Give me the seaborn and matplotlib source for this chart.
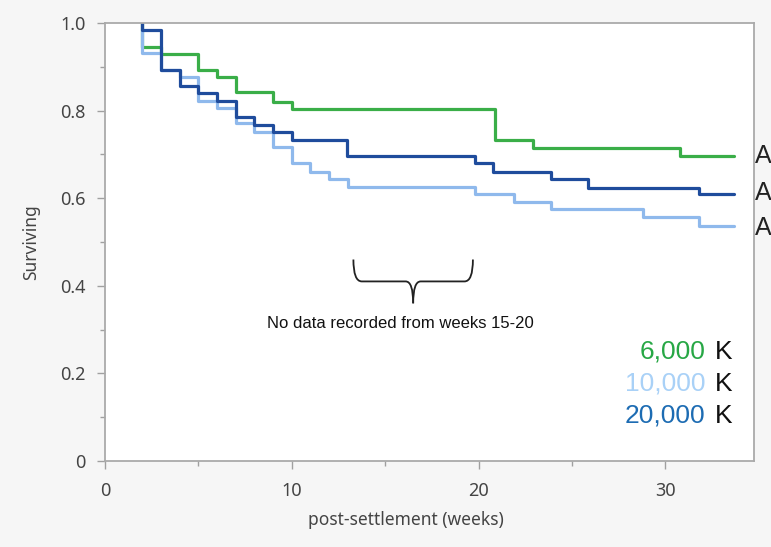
import numpy as np
import pandas as pd
import matplotlib
matplotlib.use('Agg')
import matplotlib.pyplot as plt
from matplotlib.path import Path
from matplotlib.patches import PathPatch
from matplotlib.ticker import MultipleLocator, FuncFormatter
import seaborn as sns

# survival curves (week, fraction surviving), step-post
weeks_6k = [2, 2, 3, 5, 6, 7, 9, 10, 20.9, 22.9, 30.8, 33.7]
surv_6k = [1.0, 0.946, 0.929, 0.893, 0.877, 0.842, 0.820, 0.804, 0.733, 0.715, 0.696, 0.696]

weeks_10k = [2, 2, 3, 4, 5, 6, 7, 8, 9, 10, 11, 12, 13, 19.8, 21.9, 23.9, 28.8, 31.8, 33.7]
surv_10k = [1.0, 0.932, 0.893, 0.877, 0.823, 0.806, 0.772, 0.752, 0.718, 0.680, 0.660, 0.644,
            0.625, 0.609, 0.592, 0.575, 0.556, 0.537, 0.537]

weeks_20k = [2, 2, 3, 4, 5, 6, 7, 8, 9, 10, 12.95, 19.8, 20.8, 23.9, 25.85, 31.8, 33.7]
surv_20k = [1.0, 0.985, 0.893, 0.856, 0.841, 0.823, 0.785, 0.767, 0.752, 0.733, 0.696, 0.681,
            0.660, 0.643, 0.624, 0.609, 0.609]

draw_order = ['6,000', '10,000', '20,000']
line_colors = {'6,000': '#3aae48', '10,000': '#8fb9ec', '20,000': '#1f4c9c'}
label_colors = {'6,000': '#27a745', '10,000': '#a9d1f7', '20,000': '#1d6cb3'}
legend_order = ['6,000', '10,000', '20,000']

df = pd.concat([
    pd.DataFrame({'week': weeks_6k, 'surv': surv_6k, 'group': '6,000'}),
    pd.DataFrame({'week': weeks_10k, 'surv': surv_10k, 'group': '10,000'}),
    pd.DataFrame({'week': weeks_20k, 'surv': surv_20k, 'group': '20,000'}),
], ignore_index=True)

sns.set_style('white')
plt.rcParams['font.family'] = ['Noto Sans', 'DejaVu Sans']
helv = ['Liberation Sans', 'DejaVu Sans']

fig = plt.figure(figsize=(7.71, 5.47), dpi=100, facecolor='#f6f6f6')
ax = fig.add_axes([105 / 771, 1 - 461 / 547, 649 / 771, 438 / 547])
ax.set_facecolor('white')

for g in draw_order:
    sub = df[df['group'] == g]
    sns.lineplot(data=sub, x='week', y='surv', estimator=None, sort=False,
                 drawstyle='steps-post', color=line_colors[g], linewidth=2.3, ax=ax)

ax.set_xlim(0, 34.75)
ax.set_ylim(0, 1.0)
ax.xaxis.set_major_locator(MultipleLocator(10))
ax.xaxis.set_minor_locator(MultipleLocator(5))
ax.yaxis.set_major_locator(MultipleLocator(0.2))
ax.yaxis.set_minor_locator(MultipleLocator(0.1))
ax.yaxis.set_major_formatter(FuncFormatter(lambda v, p: '0' if abs(v) < 1e-9 else f'{v:.1f}'))
ax.tick_params(which='major', direction='out', length=6, width=1, color='#a0a0a0',
               labelsize=13, labelcolor='#444444')
ax.tick_params(axis='y', which='major', pad=8)
ax.tick_params(axis='x', which='major', pad=9)
ax.tick_params(which='minor', direction='out', length=3.5, width=1, color='#a0a0a0')
ax.tick_params(axis='both', which='both', left=True, bottom=True)
for s in ax.spines.values():
    s.set_color('#aaaaaa')
    s.set_linewidth(1.3)

ax.set_xlabel('post-settlement (weeks)', fontsize=12.5, color='#444444')
ax.set_ylabel('Surviving', fontsize=12.5, color='#444444')
ax.xaxis.set_label_coords(0.464, -0.115)
ax.yaxis.set_label_coords(-0.1, 0.5)

# curly bracket over the gap in records
L, R, top, mid, tip = 13.3, 19.7, 0.46, 0.41, 0.36
M = (L + R) / 2
for side, d in ((L, 1), (R, -1)):
    verts = [(side, top), (side, mid), (side + d * 0.45, mid), (M - d * 0.4, mid),
             (M, mid), (M, tip)]
    codes = [Path.MOVETO, Path.CURVE3, Path.CURVE3, Path.LINETO, Path.CURVE3, Path.CURVE3]
    ax.add_patch(PathPatch(Path(verts, codes), facecolor='none', edgecolor='#222222', lw=1.3))
ax.text(15.8, 0.315, 'No data recorded from weeks 15-20', ha='center', va='center',
        fontsize=12, family=helv, color='#111111')

# colour key
for i, g in enumerate(legend_order):
    y = (461 - (352 + 32 * i)) / 438
    ax.text(0.9245, y, g, transform=ax.transAxes, ha='right', va='center', fontsize=19,
            color=label_colors[g], family=helv)
    ax.text(0.9400, y, 'K', transform=ax.transAxes, ha='left', va='center', fontsize=19,
            color='#111111', family=helv)

# labels at the right edge
for py in (156, 193, 228):
    fig.text(754.5 / 771, 1 - py / 547, 'A', ha='left', va='center', fontsize=18,
             color='#222222', family=helv)

fig.savefig('out.png', dpi=100, facecolor=fig.get_facecolor())
